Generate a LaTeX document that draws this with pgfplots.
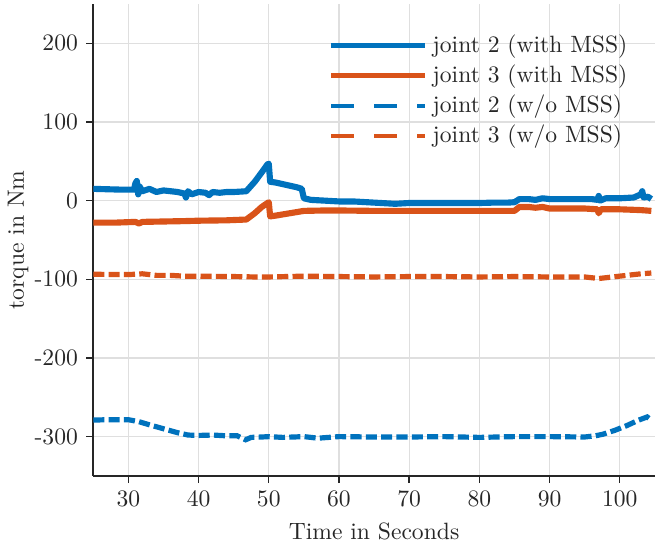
\documentclass[border=0pt]{standalone}
\usepackage{pgfplots}
\pgfplotsset{compat=1.18}
\definecolor{mblue}{RGB}{0,114,189}
\definecolor{morange}{RGB}{217,83,25}
\definecolor{axgray}{RGB}{38,38,38}
\begin{document}
\begin{tikzpicture}
\begin{axis}[
  scale only axis,
  width=238pt, height=200pt,
  xmin=25, xmax=105, ymin=-350, ymax=250,
  axis lines=left,
  axis line style={-, axgray, line width=0.7pt},
  tick align=outside,
  tick style={axgray, line width=0.6pt},
  major tick length=3pt,
  xtick={30,40,...,100},
  ytick={-300,-200,-100,0,100,200},
  yticklabels={-300,-200,-100,0,100,200},
  grid=major,
  grid style={gray!25, line width=0.5pt},
  xlabel={Time in Seconds},
  ylabel={torque in Nm},
  ylabel style={yshift=-4.3pt},
  label style={text=axgray},
  ticklabel style={text=axgray},
  legend style={at={(0.973,0.955)}, anchor=north east, draw=none, fill=none,
    cells={anchor=west}, row sep=-0.3pt, text=axgray},
  legend cell align=left,
]
\addplot[mblue, line width=2.6pt, line join=round,
  legend image code/.code={\draw[mblue, line width=2.2pt] (0pt,0pt) -- (40pt,0pt);}]
coordinates {
(25,15)(27,14.5)(29,14)(30.8,14)(31.0,22)(31.2,25)(31.4,8)(31.6,18)(32,12)(33,15)(34,11)(35,13)(36,12)(37,11)(38,9)(38.2,4)(38.5,12)(39,8)(40,11)(41,10)(41.5,7)(42,11)(43,10)(44,11)(45,11)(46,11.5)(46.8,12)(48,24)(49,36)(49.8,46)(50,47)(50.2,24)(51,23)(52,21)(53,19)(54,17)(54.7,15)(55,3)(56,1)(58,0)(60,-1)(62,-1)(64,-2)(66,-3)(68,-4)(70,-3)(72,-3)(74,-3)(76,-3)(78,-3)(80,-3)(82,-2.5)(84,-2.5)(85,-2)(85.7,2)(87,2)(88,1)(89,3)(90,2)(92,2)(94,2)(96,2)(96.8,1)(97,6)(97.2,0)(98,3)(100,3)(102,4)(103,8)(103.2,12)(103.4,4)(104,5)(104.5,2)
};
\addlegendentry{joint 2 (with MSS)}
\addplot[morange, line width=2.6pt, line join=round,
  legend image code/.code={\draw[morange, line width=2.2pt] (0pt,0pt) -- (40pt,0pt);}]
coordinates {
(25,-28)(28,-28)(31,-27)(31.5,-29)(32,-27)(35,-26.5)(38,-26)(40,-25.5)(44,-25)(46.8,-24)(48,-16)(49,-8)(50,-2)(50.2,-20)(51,-19)(53,-16)(55,-13)(58,-12.5)(60,-12.5)(65,-13)(70,-13)(75,-13)(80,-13)(85,-13)(85.7,-8)(87,-8)(88,-9)(89,-8)(90,-10)(92,-10)(95,-10)(96.8,-11)(97,-16)(97.3,-11)(100,-11)(103,-12)(104.5,-13)
};
\addlegendentry{joint 3 (with MSS)}
\addplot[mblue, line width=2.2pt, dash pattern=on 4.7pt off 1.8pt,
  legend image code/.code={\draw[mblue, line width=1.8pt, dash pattern=on 9.6pt off 8.7pt] (0pt,0pt) -- (40pt,0pt);}]
coordinates {
(25,-279)(27,-278.5)(30,-278.5)(31.5,-281)(33,-285)(35,-290)(37,-295)(38.5,-298)(40,-298.5)(42,-298)(44,-299)(45.5,-299)(46.7,-304)(47.5,-301)(49,-300.5)(50,-300)(52,-301)(55,-300)(57,-302)(60,-300)(65,-300.5)(70,-300.5)(75,-300)(80,-301)(85,-300)(90,-300)(95,-300.5)(96.5,-299)(97.6,-297)(99.3,-292)(101,-286)(102.7,-279)(103.9,-275)(104.5,-279)
};
\addlegendentry{joint 2 (w/o MSS)}
\addplot[morange, line width=2.2pt, dash pattern=on 4.7pt off 1.8pt,
  legend image code/.code={\draw[morange, line width=1.8pt, dash pattern=on 9.6pt off 8.7pt] (0pt,0pt) -- (40pt,0pt);}]
coordinates {
(25,-93.5)(28,-94)(30,-94)(32,-93)(34,-95)(36,-95)(38,-96)(40,-96)(45,-96.5)(48,-97)(50,-97)(55,-96)(60,-96.5)(65,-97)(70,-96.5)(75,-96.5)(80,-97)(85,-96.5)(90,-97)(95,-97)(97,-99)(99,-97)(101,-95)(103,-93)(104.5,-92)
};
\addlegendentry{joint 3 (w/o MSS)}
\end{axis}
\path (current axis.south east) ++(4.3pt,0pt);
\path (current axis.north west) ++(0pt,1.7pt);
\end{tikzpicture}
\end{document}
